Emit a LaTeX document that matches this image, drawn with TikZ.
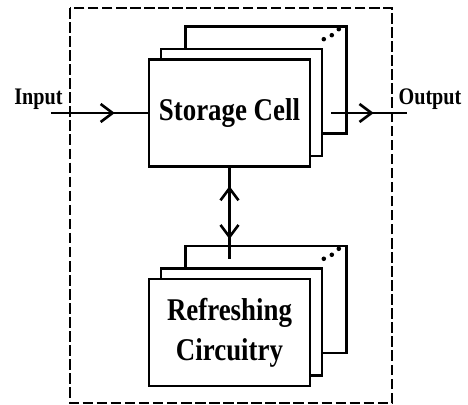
\documentclass[tikz,border=0pt]{standalone}
\usepackage{fontspec}
\setmainfont{Liberation Serif}
\newfontfamily\blockfont[FakeStretch=0.85]{Liberation Serif}
\usetikzlibrary{arrows.meta,positioning,calc,decorations.markings,backgrounds}
\tikzset{
    barb/.tip={Straight Barb[length=2.4mm, width=3.6mm]},
    block/.style={draw, line width=1.5pt, fill=white, minimum width=3.22cm, minimum height=2.14cm, inner sep=0pt, align=center, font=\blockfont\bfseries\fontsize{18}{22.7}\selectfont},
    lbl/.style={font=\blockfont\bfseries\fontsize{13.5}{15}\selectfont, anchor=base},
    conn/.style={line width=1.5pt},
    midarrow/.style={postaction={decorate, decoration={markings, mark=at position #1 with {\arrow{barb}}}}},
    revarrow/.style={postaction={decorate, decoration={markings, mark=at position #1 with {\arrowreversed{barb}}}}},
    frame/.style={line width=0.7pt, dash pattern=on 6pt off 2pt}
}
\begin{document}
\begin{tikzpicture}[x=0.02cm, y=-0.02cm]
            \useasboundingbox (0,0) rectangle (468,405);
            \draw[frame] (70,8) rectangle (392,403);

            % front blocks
            \node[block] (cell1) at (229.5,113) {Storage Cell};
            \node[block, below=2.2cm of cell1] (rfr1) {Refreshing\\Circuitry};

            % stacked copies behind them
            \begin{scope}[on background layer]
                \foreach \blk in {cell, rfr} {
                    \node[block] (\blk3) at ($(\blk1)+(36.5,-33)$) {};
                    \foreach \dx/\dy in {-24/14, -16/10, -9/4}
                        \fill ([shift={(\dx,\dy)}]\blk3.north east) circle (1.3pt);
                    \node[block] (\blk2) at ($(\blk1)+(12,-10.5)$) {};
                }
            \end{scope}

            % input and output
            \coordinate (in) at (51,113);
            \coordinate (out) at (407,113);
            \node[lbl] (inlbl) at (38.5,105) {Input};
            \node[lbl] (outlbl) at (430,105) {Output};

            \draw[conn, midarrow=0.66] (in) -- (cell1.west);
            \draw[conn, midarrow=0.56] ($(cell2.east |- cell1)+(8,0)$) -- (out);
            \draw[conn, revarrow=0.2, midarrow=0.78] (cell1.south) -- ($(cell1.south |- rfr2.north)+(0,-8)$);
        \end{tikzpicture}
\end{document}
